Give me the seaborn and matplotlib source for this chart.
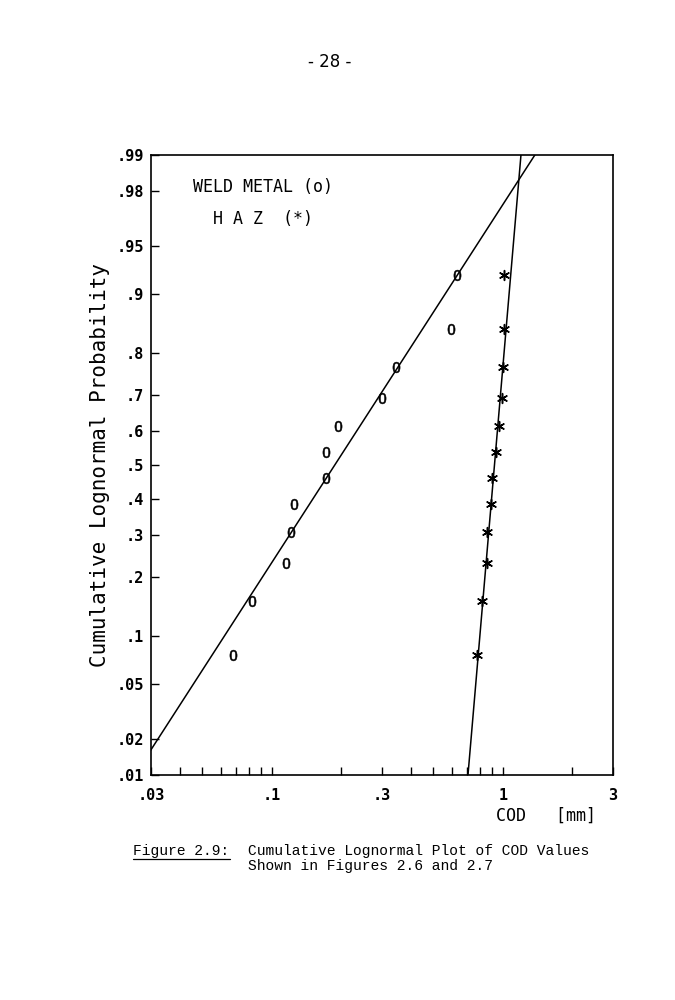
# Cumulative lognormal plot of COD values (weld metal vs HAZ)
#
# %% IMPORTS
from statistics import NormalDist

import matplotlib.pyplot as plt
import numpy as np
import pandas as pd
import seaborn as sns
from matplotlib.lines import Line2D

# %% DATA
# plotting positions i/(n+1), n = 12
prob = [1 / 13, 2 / 13, 3 / 13, 4 / 13, 5 / 13, 6 / 13,
        7 / 13, 8 / 13, 9 / 13, 10 / 13, 11 / 13, 12 / 13]
cod_weld = [0.068, 0.082, 0.115, 0.121, 0.125, 0.172,
            0.172, 0.193, 0.300, 0.345, 0.597, 0.634]
cod_haz = [0.774, 0.813, 0.855, 0.855, 0.889, 0.898,
           0.935, 0.963, 0.994, 1.00, 1.01, 1.01]

# fitted lines, given as COD at p = .01 and p = .99
fit_prob = [0.01, 0.99]
fit_weld = [0.0255, 1.377]
fit_haz = [0.707, 1.199]

y_ticks = [0.01, 0.02, 0.05, 0.1, 0.2, 0.3, 0.4, 0.5, 0.6, 0.7, 0.8, 0.9, 0.95, 0.98, 0.99]
y_labels = [".01", ".02", ".05", ".1", ".2", ".3", ".4", ".5", ".6", ".7", ".8", ".9", ".95", ".98", ".99"]
x_ticks = [0.03, 0.04, 0.05, 0.06, 0.07, 0.08, 0.09, 0.1, 0.2, 0.3, 0.4, 0.5,
           0.6, 0.7, 0.8, 0.9, 1, 2, 3]
x_labels = {0.03: ".03", 0.1: ".1", 0.3: ".3", 1: "1", 3: "3"}

pts = pd.DataFrame({
    "cod": cod_weld + cod_haz,
    "p": prob + prob,
    "group": ["weld"] * len(cod_weld) + ["haz"] * len(cod_haz),
})

# %% PROBABILITY SCALE
nd = NormalDist()
_ppf = np.vectorize(nd.inv_cdf, otypes=[float])
_cdf = np.vectorize(nd.cdf, otypes=[float])


def probit(p):
    p = np.clip(np.asarray(p, dtype=float), 1e-9, 1 - 1e-9)
    return _ppf(p)


def inv_probit(z):
    return _cdf(np.asarray(z, dtype=float))


# %% PLOT
sns.set_style("ticks")
plt.rcParams["font.family"] = ["DejaVu Sans Mono", "DejaVu Sans"]
plt.rcParams["text.color"] = "black"
plt.rcParams["axes.labelcolor"] = "black"
plt.rcParams["xtick.color"] = "black"
plt.rcParams["ytick.color"] = "black"

fig = plt.figure(figsize=(6.75, 10), dpi=100)
ax = fig.add_axes([0.2237, 0.225, 0.6844, 0.62])

ax.set_xscale("log")
ax.set_yscale("function", functions=(probit, inv_probit))

sns.lineplot(x=fit_weld, y=fit_prob, ax=ax, color="black", lw=1.1, sort=False)
sns.lineplot(x=fit_haz, y=fit_prob, ax=ax, color="black", lw=1.1, sort=False)

weld = pts[pts["group"] == "weld"]
haz = pts[pts["group"] == "haz"]
sns.scatterplot(data=weld, x="cod", y="p", ax=ax, marker="$0$", s=60,
                color="black", linewidth=0.4, edgecolor="black")
sns.scatterplot(data=haz, x="cod", y="p", ax=ax, marker=(6, 2, 0), s=50,
                color="black", linewidth=1.1, edgecolor="black")

ax.set_xlim(0.03, 3)
ax.set_ylim(0.01, 0.99)

ax.set_yticks(y_ticks)
ax.set_yticklabels(y_labels, fontweight="bold")
ax.set_xticks(x_ticks)
ax.set_xticklabels([x_labels.get(t, "") for t in x_ticks], fontweight="bold")
ax.xaxis.set_minor_locator(plt.NullLocator())
ax.yaxis.set_minor_locator(plt.NullLocator())

ax.tick_params(axis="y", direction="in", length=6, width=1, pad=5, labelsize=11)
ax.tick_params(axis="x", direction="in", length=6, width=1, pad=9, labelsize=11)
for s in ax.spines.values():
    s.set_linewidth(1.2)
    s.set_color("black")

ax.set_ylabel("Cumulative Lognormal Probability", fontsize=15, va="center")
ax.yaxis.set_label_coords(-0.11, 0.5)
ax.set_xlabel("COD   [mm]", fontsize=12, va="center")
ax.xaxis.set_label_coords(0.855, -0.066)

ax.text(0.091, 0.948, "WELD METAL (o)", transform=ax.transAxes,
        fontsize=12, ha="left", va="center")
ax.text(0.134, 0.897, "H A Z  (*)", transform=ax.transAxes,
        fontsize=12, ha="left", va="center")

# page number and caption
fig.text(0.489, 0.938, "- 28 -", fontsize=12, family="DejaVu Sans",
         ha="center", va="center")
fig.text(0.197, 0.149, "Figure 2.9:", fontsize=10.5, family="Liberation Mono",
         ha="left", va="center")
fig.add_artist(Line2D([0.197, 0.340], [0.141, 0.141], color="black", lw=0.9,
                      transform=fig.transFigure))
fig.text(0.367, 0.149, "Cumulative Lognormal Plot of COD Values",
         fontsize=10.5, family="Liberation Mono", ha="left", va="center")
fig.text(0.367, 0.134, "Shown in Figures 2.6 and 2.7",
         fontsize=10.5, family="Liberation Mono", ha="left", va="center")

fig.savefig("out.png", dpi=100)
